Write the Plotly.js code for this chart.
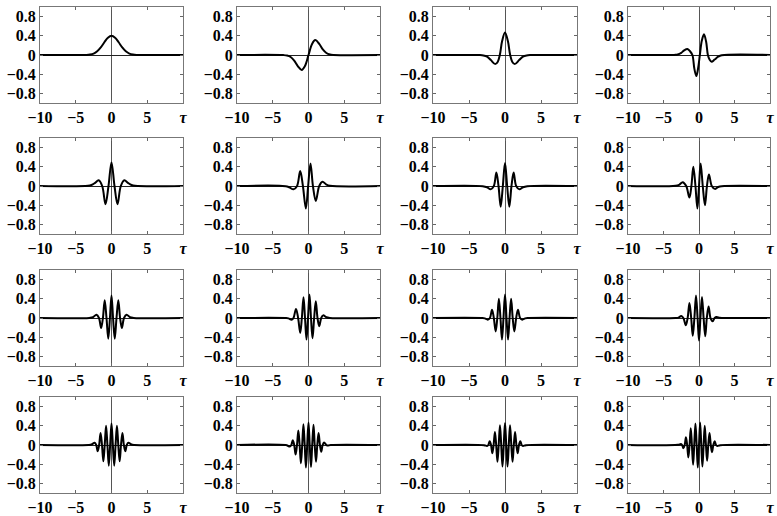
<!DOCTYPE html>
<html><head><meta charset="utf-8">
<script src="https://cdn.plot.ly/plotly-3.0.1.min.js"></script>
<style>body{margin:0;background:#fff}#chart{width:777px;height:516px}</style>
</head><body><div id="chart"></div>
<script>
const xTickVals = [-10,-5,0,5,10];
const xTickText = ['\u221210','\u22125','0','5','<i>\u03c4</i>'];
const yTickVals = [-0.8,-0.4,0,0.4,0.8];
const yTickText = ['\u22120.8','\u22120.4','0','0.4','0.8'];

const tau1 = [-10,-3.5,-3,-2.5,-2,-1.5,-1,-0.5,0,0.5,1,1.5,2,2.5,3,3.5,10];
const psi1 = [0,0.002,0.01,0.03,0.077,0.158,0.265,0.361,0.4,0.361,0.265,0.158,0.077,0.03,0.01,0.002,0];
const tau2 = [-10,-3.5,-3,-2.5,-2,-1.5,-0.95,-0.5,0,0.5,0.95,1.5,2,2.5,3,3.5,10];
const psi2 = [0,-0.002,-0.011,-0.042,-0.117,-0.23,-0.31,-0.23,0,0.23,0.31,0.23,0.117,0.042,0.011,0.002,0];
const tau3 = [-10,-3.5,-3,-2.5,-2,-1.35,-1,-0.72,-0.4,0,0.4,0.72,1,1.35,2,2.5,3,3.5,10];
const psi3 = [0,-0.002,-0.01,-0.035,-0.1,-0.19,-0.14,0,0.29,0.47,0.29,0,-0.14,-0.19,-0.1,-0.035,-0.01,-0.002,0];
const tau4 = [-10,-3.5,-3,-2.5,-2.1,-1.63,-1.25,-0.93,-0.65,-0.37,-0.12,0.12,0.4,0.7,1.0,1.25,1.5,1.77,2.2,2.7,3.2,10];
const psi4 = [0,0.002,0.01,0.045,0.095,0.125,0.075,0,-0.29,-0.44,-0.27,0,0.3,0.43,0.28,0,-0.1,-0.14,-0.095,-0.035,-0.006,0];
const tau5 = [-10,-3.3,-2.8,-2.3,-1.8,-1.3,-0.84,-0.42,0,0.42,0.84,1.3,1.8,2.3,2.8,3.3,10];
const psi5 = [0,0.003,0.02,0.065,0.12,0,-0.38,0,0.49,0,-0.38,0,0.12,0.065,0.02,0.003,0];
const tau6 = [-10,-3.2,-2.7,-2.1,-1.6,-1.16,-0.78,-0.37,-0.05,0.28,0.62,1.02,1.5,1.95,2.5,3.0,10];
const psi6 = [0,-0.003,-0.025,-0.07,0,0.31,0,-0.47,0,0.47,0,-0.31,0,0.09,0.03,0.005,0];
const tau7 = [-10,-3.1,-2.5,-2.0,-1.55,-1.2,-0.9,-0.6,-0.3,0,0.3,0.6,0.9,1.2,1.55,2.0,2.5,3.1,10];
const psi7 = [0,-0.003,-0.025,-0.07,0,0.28,0,-0.43,0,0.48,0,-0.43,0,0.28,0,-0.07,-0.025,-0.003,0];
const tau8 = [-10,-3.3,-2.8,-2.3,-1.8,-1.35,-1.07,-0.8,-0.5,-0.23,0,0.23,0.53,0.84,1.12,1.4,1.8,2.23,2.7,3.2,10];
const psi8 = [0,0.004,0.025,0.08,0,-0.24,0,0.40,0,-0.47,0,0.47,0,-0.40,0,0.24,0,-0.06,-0.02,-0.003,0];
const tau9 = [-10,-3.1,-2.6,-2.1,-1.75,-1.45,-1.2,-0.95,-0.7,-0.45,-0.22,0,0.22,0.45,0.7,0.95,1.2,1.45,1.75,2.1,2.6,3.1,10];
const psi9 = [0,0.002,0.015,0.07,0,-0.21,0,0.37,0,-0.43,0,0.47,0,-0.43,0,0.37,0,-0.21,0,0.07,0.015,0.002,0];
const tau10 = [-10,-3.2,-2.8,-2.35,-2.1,-1.75,-1.45,-1.16,-0.93,-0.7,-0.49,-0.28,-0.07,0.14,0.35,0.56,0.79,1.02,1.26,1.5,1.78,2.05,2.5,3.0,10];
const psi10 = [0,-0.001,-0.008,-0.035,0,0.19,0,-0.31,0,0.43,0,-0.45,0,0.49,0,-0.42,0,0.35,0,-0.17,0,0.055,0.015,0.002,0];
const tau11 = [-10,-3.2,-2.8,-2.4,-2.1,-1.8,-1.55,-1.3,-1.07,-0.85,-0.63,-0.42,-0.21,0,0.21,0.42,0.63,0.85,1.07,1.3,1.55,1.8,2.1,2.4,2.8,3.2,10];
const psi11 = [0,-0.001,-0.008,-0.035,0,0.17,0,-0.28,0,0.40,0,-0.45,0,0.49,0,-0.45,0,0.40,0,-0.28,0,0.17,0,-0.035,-0.008,-0.001,0];
const tau12 = [-10,-3.3,-2.9,-2.5,-2.2,-1.86,-1.6,-1.35,-1.1,-0.88,-0.65,-0.42,-0.2,0,0.2,0.42,0.65,0.88,1.1,1.35,1.62,1.9,2.2,2.47,2.9,3.3,10];
const psi12 = [0,0.001,0.008,0.04,0,-0.15,0,0.31,0,-0.37,0,0.47,0,-0.47,0,0.44,0,-0.38,0,0.24,0,-0.07,0,0.02,0.004,0,0];
const tau13 = [-10,-3.2,-2.8,-2.35,-2.14,-1.93,-1.73,-1.53,-1.33,-1.14,-0.95,-0.76,-0.57,-0.38,-0.19,0,0.19,0.38,0.57,0.76,0.95,1.14,1.33,1.53,1.73,1.93,2.14,2.35,2.8,3.2,10];
const psi13 = [0,0.001,0.01,0.045,0,-0.13,0,0.25,0,-0.34,0,0.40,0,-0.43,0,0.45,0,-0.43,0,0.40,0,-0.34,0,0.25,0,-0.13,0,0.045,0.01,0.001,0];
const tau14 = [-10,-3.2,-2.6,-2.4,-2.2,-2.0,-1.8,-1.61,-1.42,-1.24,-1.06,-0.88,-0.71,-0.53,-0.36,-0.18,0,0.17,0.35,0.52,0.7,0.87,1.05,1.23,1.41,1.6,1.78,1.98,2.18,2.6,3.1,10];
const psi14 = [0,-0.002,-0.03,0,0.1,0,-0.2,0,0.3,0,-0.38,0,0.43,0,-0.47,0,0.47,0,-0.46,0,0.42,0,-0.35,0,0.25,0,-0.14,0,0.05,-0.01,0,0];
const tau15 = [-10,-2.9,-2.5,-2.32,-2.12,-1.94,-1.76,-1.58,-1.4,-1.225,-1.05,-0.875,-0.7,-0.525,-0.35,-0.175,0,0.175,0.35,0.525,0.7,0.875,1.05,1.225,1.4,1.58,1.76,1.94,2.12,2.32,2.5,2.9,10];
const psi15 = [0,-0.003,-0.02,0,0.08,0,-0.17,0,0.27,0,-0.35,0,0.41,0,-0.45,0,0.46,0,-0.45,0,0.41,0,-0.35,0,0.27,0,-0.17,0,0.08,0,-0.02,-0.003,0];
const tau16 = [-10,-3.0,-2.55,-2.38,-2.2,-2.02,-1.84,-1.67,-1.5,-1.33,-1.16,-1.0,-0.83,-0.67,-0.5,-0.33,-0.17,0,0.16,0.32,0.48,0.65,0.81,0.98,1.14,1.31,1.48,1.66,1.83,2.02,2.2,2.4,2.6,3.0,10];
const psi16 = [0,0.003,0.02,0,-0.07,0,0.16,0,-0.26,0,0.35,0,-0.41,0,0.45,0,-0.47,0,0.47,0,-0.45,0,0.40,0,-0.33,0,0.25,0,-0.15,0,0.08,0,-0.02,-0.003,0];

const series = [[tau1,psi1],[tau2,psi2],[tau3,psi3],[tau4,psi4],[tau5,psi5],[tau6,psi6],[tau7,psi7],[tau8,psi8],
                [tau9,psi9],[tau10,psi10],[tau11,psi11],[tau12,psi12],[tau13,psi13],[tau14,psi14],[tau15,psi15],[tau16,psi16]];

const W = 777, H = 516;
const colPx = [[40,183],[237,380],[433,577],[628,770]];
const rowPx = [[7,103],[138,234],[270,366],[397,493]];
const tickFont = {family:'Liberation Serif, Times New Roman, serif', size:16, color:'#000', weight:700};

const data = [];
const layout = {width:W, height:H, margin:{l:0,r:0,t:0,b:0}, showlegend:false,
  paper_bgcolor:'#fff', plot_bgcolor:'#fff'};

series.forEach((s, i) => {
  const n = i + 1;
  const r = Math.floor(i / 4), c = i % 4;
  const sx = n === 1 ? '' : String(n);
  data.push({x:s[0], y:s[1], type:'scatter', mode:'lines', xaxis:'x'+sx, yaxis:'y'+sx,
    line:{color:'#000', width:2, shape:'spline', smoothing:1}, hoverinfo:'skip'});
  layout['xaxis'+sx] = {
    domain:[colPx[c][0]/W, colPx[c][1]/W], anchor:'y'+sx, range:[-10,10],
    tickvals:xTickVals, ticktext:xTickText, ticks:'inside', ticklen:3, tickcolor:'#666',
    showline:true, mirror:'ticks', linecolor:'#777', linewidth:1, showgrid:false,
    zeroline:true, zerolinecolor:'#555', zerolinewidth:1, tickfont:tickFont, fixedrange:true,
    ticklabeloverflow:'allow'
  };
  layout['yaxis'+sx] = {
    domain:[1-rowPx[r][1]/H, 1-rowPx[r][0]/H], anchor:'x'+sx, range:[-1,1],
    tickvals:yTickVals, ticktext:yTickText, ticks:'inside', ticklen:3, tickcolor:'#666',
    showline:true, mirror:'ticks', linecolor:'#777', linewidth:1, showgrid:false,
    zeroline:true, zerolinecolor:'#222', zerolinewidth:1, tickfont:tickFont, fixedrange:true,
    ticklabeloverflow:'allow'
  };
});

Plotly.newPlot('chart', data, layout, {staticPlot:true, displayModeBar:false});
</script>
</body></html>
